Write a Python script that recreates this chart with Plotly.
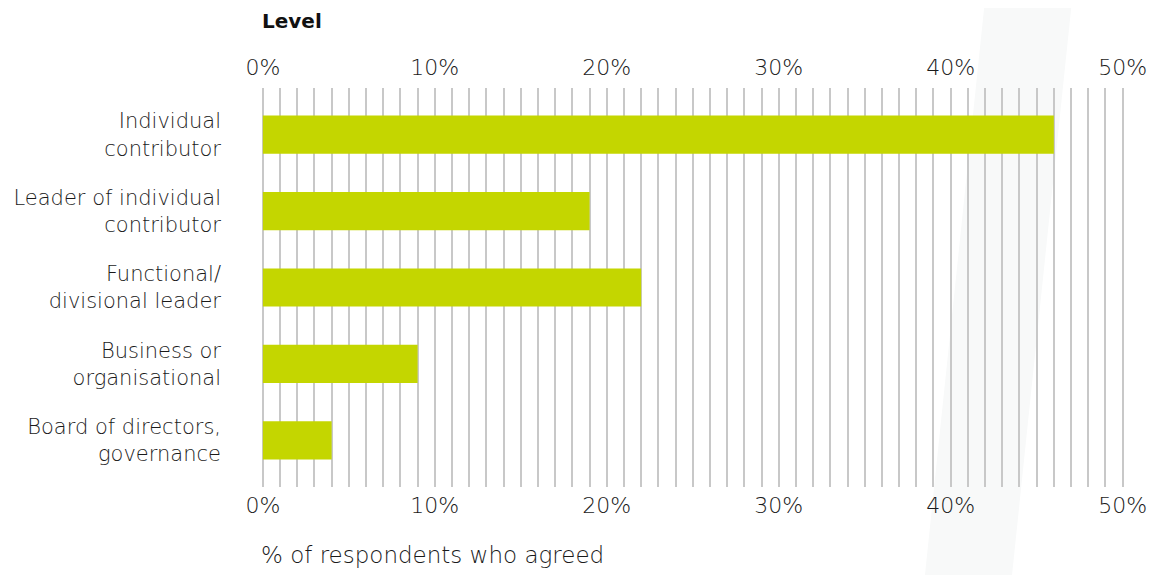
import plotly.graph_objects as go

categories = ["Individual<br>contributor", "Leader of individual<br>contributor",
              "Functional/<br>divisional leader", "Business or<br>organisational",
              "Board of directors,<br>governance"]
values = [46, 19, 22, 9, 4]
tick_vals = [0, 10, 20, 30, 40, 50]
tick_text = ["0%", "10%", "20%", "30%", "40%", "50%"]

BAR = "#C4D600"
GRID = "#C8C8C8"
TXT = "#1a1a1a"
FONT = "'DejaVu Sans', 'Open Sans', sans-serif"

fig = go.Figure()
fig.add_trace(go.Bar(x=values, y=categories, orientation="h",
                     marker=dict(color=BAR, line=dict(width=0)),
                     width=0.5, hoverinfo="x+y"))

axis_common = dict(range=[-0.05, 50.08], tickvals=tick_vals, ticktext=tick_text,
                   showline=False, ticks="", automargin=False,
                   tickfont=dict(family=FONT, size=22, color=TXT, weight=200),
                   fixedrange=True)

# page body has an 8px default margin, so the figure is offset by 8px
fig.update_layout(
    width=1148, height=567,
    margin=dict(l=254, r=32, t=80, b=88, autoexpand=False),
    paper_bgcolor="white", plot_bgcolor="rgba(0,0,0,0)",
    showlegend=False,
    bargap=0.5,
    xaxis=dict(side="top", ticklabelstandoff=8, showgrid=True, gridcolor=GRID, gridwidth=1.5,
               zeroline=True, zerolinecolor=GRID, zerolinewidth=1.5,
               minor=dict(dtick=1, tick0=0, showgrid=True, gridcolor=GRID, gridwidth=1.5),
               **axis_common),
    xaxis2=dict(side="bottom", overlaying="x", matches="x", ticklabelstandoff=3,
                showgrid=False, zeroline=False, **axis_common),
    yaxis=dict(range=[4.61, -0.61], showgrid=False, zeroline=False, ticks="", automargin=False,
               tickfont=dict(family=FONT, size=21, color=TXT, weight=200),
               ticklabelstandoff=40, fixedrange=True),
    shapes=[dict(type="path", xref="paper", yref="paper",
                 path="M 0.7691 -0.2206 L 0.8701 -0.2206 L 0.9397 1.2206 L 0.8387 1.2206 Z",
                 fillcolor="#F8F9F9", line=dict(width=0), layer="below")],
    annotations=[
        dict(text="<b>Level</b>", xref="paper", yref="paper", x=-0.002, y=1.168,
             xanchor="left", yanchor="middle", showarrow=False,
             font=dict(family=FONT, size=20, color="#111111")),
        dict(text="% of respondents who agreed", xref="paper", yref="paper", x=-0.003, y=-0.17,
             xanchor="left", yanchor="middle", showarrow=False,
             font=dict(family=FONT, size=23, color=TXT, weight=200)),
    ],
)
# invisible companion trace so the bottom axis is rendered
fig.add_trace(go.Scatter(x=values, y=categories, xaxis="x2", mode="markers",
                         marker=dict(opacity=0), hoverinfo="skip", showlegend=False))

fig.write_html("out.html")
